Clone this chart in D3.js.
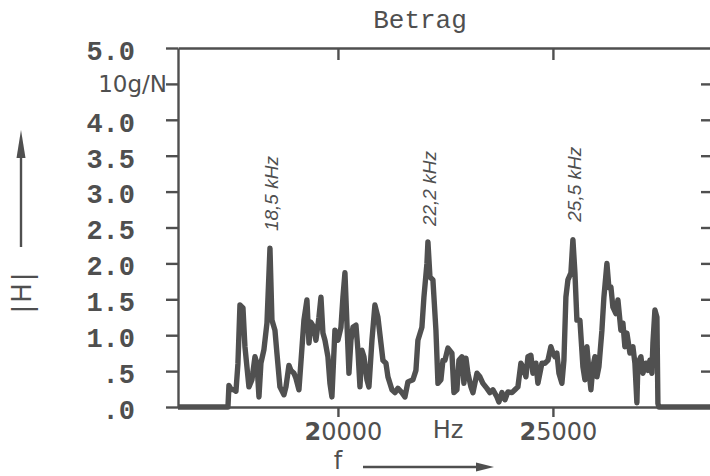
<!DOCTYPE html>
<html>
<head>
<meta charset="utf-8">
<script src="https://cdn.jsdelivr.net/npm/d3@7"></script>
<style>
  html, body { margin: 0; padding: 0; background: #ffffff; }
  svg { display: block; }
</style>
</head>
<body>
<svg id="chart" width="710" height="476"></svg>
<script>
// ---------- data ----------
const freqHz = [
  16280, 17420, 17442, 17465, 17512, 17581, 17628, 17674, 17721, 17791, 17837, 17930, 18000, 18070, 18116,
  18163, 18209, 18279, 18349, 18419, 18465, 18535, 18581, 18651, 18744, 18791, 18860, 18907, 18977,
  19023, 19093, 19140, 19209, 19279, 19326, 19372, 19442, 19488, 19558, 19605, 19651, 19698, 19767,
  19814, 19860, 19930, 20000, 20070, 20116, 20163, 20209, 20256, 20302, 20349, 20419, 20465, 20512,
  20558, 20605, 20674, 20721, 20791, 20860, 20930, 21000, 21047, 21116, 21163, 21256, 21326, 21395,
  21488, 21558, 21628, 21744, 21814, 21860, 21953, 22000, 22070, 22093, 22140, 22209, 22279, 22326,
  22395, 22442, 22488, 22558, 22651, 22698, 22767, 22814, 22884, 22930, 22977, 23023, 23093, 23140,
  23233, 23302, 23372, 23465, 23535, 23605, 23698, 23744, 23814, 23884, 23953, 24047, 24116, 24186,
  24256, 24302, 24372, 24419, 24488, 24535, 24605, 24651, 24744, 24814, 24884, 24953, 25000, 25047,
  25093, 25140, 25209, 25256, 25302, 25349, 25419, 25465, 25512, 25558, 25628, 25698, 25744, 25791,
  25837, 25884, 25930, 25977, 26023, 26070, 26140, 26186, 26256, 26302, 26349, 26395, 26465, 26512,
  26581, 26628, 26674, 26721, 26791, 26860, 26907, 26953, 26977, 27047, 27093, 27163, 27209, 27256,
  27302, 27326, 27372, 27419, 27442, 27465, 28700
];
const magnitude = [
  0.00, 0.00, 0.00, 0.30, 0.25, 0.24, 0.22, 0.60, 1.42, 1.38, 0.84, 0.28, 0.38, 0.70, 0.61,
  0.14, 0.61, 0.80, 1.17, 2.21, 1.21, 1.07, 0.75, 0.28, 0.17, 0.28, 0.58, 0.51, 0.47,
  0.40, 0.24, 0.63, 1.21, 1.49, 0.89, 1.18, 1.11, 0.93, 1.25, 1.53, 1.03, 0.93, 0.70,
  0.33, 0.14, 1.07, 0.93, 1.11, 1.53, 1.87, 1.17, 0.47, 0.93, 1.11, 1.14, 0.79, 0.28,
  0.79, 0.70, 0.38, 0.28, 0.93, 1.42, 1.25, 0.89, 0.65, 0.61, 0.42, 0.24, 0.20, 0.26,
  0.20, 0.14, 0.35, 0.38, 0.51, 0.93, 1.11, 1.53, 2.00, 2.30, 1.81, 1.77, 1.07, 0.33,
  0.38, 0.65, 0.65, 0.82, 0.75, 0.20, 0.24, 0.65, 0.70, 0.33, 0.68, 0.47, 0.28, 0.20,
  0.47, 0.42, 0.33, 0.26, 0.20, 0.24, 0.14, 0.07, 0.20, 0.10, 0.21, 0.20, 0.24, 0.28,
  0.61, 0.56, 0.42, 0.70, 0.72, 0.47, 0.61, 0.33, 0.61, 0.61, 0.65, 0.84, 0.75, 0.70,
  0.75, 0.47, 0.33, 0.65, 1.53, 1.77, 1.87, 2.33, 1.87, 1.21, 1.21, 0.56, 0.38, 0.84,
  0.51, 0.24, 0.56, 0.70, 0.42, 0.56, 1.07, 1.53, 2.00, 1.66, 1.67, 1.39, 1.30, 1.49,
  1.07, 1.17, 0.84, 1.03, 0.75, 0.84, 0.61, 0.06, 0.61, 0.70, 0.47, 0.61, 0.51, 0.65,
  0.47, 0.89, 1.35, 1.25, 0.05, 0.00, 0.00
];
const xTickValues = [20000, 25000];
const xTickLabels = ["20000", "25000"];
const yTickValues = [0, 0.5, 1.0, 1.5, 2.0, 2.5, 3.0, 3.5, 4.0, 4.5, 5.0];
const yTickLabels = [".0", ".5", "1.0", "1.5", "2.0", "2.5", "3.0", "3.5", "4.0", "10g/N", "5.0"];
const peakFreqs = [18419, 22093, 25465];
const peakLabels = ["18,5 kHz", "22,2 kHz", "25,5 kHz"];
const peakLabelLevel = [2.45, 2.52, 2.58];
const titleText = "Betrag";
const xUnitText = "Hz";
const xAxisText = "f";
const yAxisText = "|H|";

// ---------- layout ----------
const svg = d3.select("#chart");
const ink = "#4f4f4f";
const plotLeft = 178, plotRight = 712, plotTop = 48, plotBottom = 407;

const x = d3.scaleLinear().domain([16280, 28700]).range([plotLeft, plotRight]);
const y = d3.scaleLinear().domain([0, 5]).range([plotBottom, plotTop]);

svg.append("rect").attr("width", 710).attr("height", 476).attr("fill", "#ffffff");

// title
svg.append("text")
  .attr("x", 420).attr("y", 28)
  .attr("text-anchor", "middle")
  .attr("font-family", "'Liberation Mono', 'Courier New', monospace")
  .attr("font-size", 26)
  .attr("fill", ink)
  .text(titleText);

// left axis
const yLabelMap = new Map(yTickValues.map((v, i) => [v, yTickLabels[i]]));
const gL = svg.append("g").attr("transform", `translate(${plotLeft},0)`)
  .call(d3.axisLeft(y).tickValues(yTickValues).tickSize(12).tickSizeOuter(0).tickPadding(31)
    .tickFormat(d => yLabelMap.get(d)));
gL.select(".domain").attr("stroke", ink).attr("stroke-width", 2.4);
gL.selectAll(".tick line").attr("stroke", ink).attr("stroke-width", 2.4);
gL.selectAll(".tick text")
  .attr("fill", ink)
  .attr("font-family", "'Liberation Mono', 'Courier New', monospace")
  .attr("font-weight", "bold")
  .attr("font-size", 27)
  .attr("dy", "0.42em");
gL.selectAll(".tick text").filter(d => d === 4.5)
  .attr("font-weight", "normal")
  .attr("font-family", "'DejaVu Sans', sans-serif")
  .attr("font-size", 23)
  .attr("x", -11)
  .attr("dy", "0.35em");

// right ticks (axis itself just off-canvas)
const gR = svg.append("g").attr("transform", `translate(${plotRight},0)`)
  .call(d3.axisLeft(y).tickValues(yTickValues.filter(v => v > 0 && v < 5)).tickSize(11).tickSizeOuter(0).tickFormat(""));
gR.select(".domain").attr("stroke", ink).attr("stroke-width", 2.4);
gR.selectAll(".tick line").attr("stroke", ink).attr("stroke-width", 2.4);

// top axis
const gT = svg.append("g").attr("transform", `translate(0,${plotTop})`)
  .call(d3.axisBottom(x).tickValues(xTickValues).tickSize(12).tickSizeOuter(0).tickFormat(""));
gT.select(".domain").attr("stroke", ink).attr("stroke-width", 2.4);
gT.selectAll(".tick line").attr("stroke", ink).attr("stroke-width", 2.4);

// bottom axis
const xLabelMap = new Map(xTickValues.map((v, i) => [v, xTickLabels[i]]));
const gB = svg.append("g").attr("transform", `translate(0,${plotBottom})`)
  .call(d3.axisBottom(x).tickValues(xTickValues).tickSize(10).tickSizeOuter(0).tickPadding(6)
    .tickFormat(d => xLabelMap.get(d)));
gB.select(".domain").attr("stroke", ink).attr("stroke-width", 2.6);
gB.selectAll(".tick line").attr("stroke", ink).attr("stroke-width", 2.4);
gB.selectAll(".tick text").each(function(d) {
  const t = d3.select(this);
  const s = xLabelMap.get(d);
  t.text(null)
    .attr("x", 5)
    .attr("fill", ink)
    .attr("font-family", "'DejaVu Sans', sans-serif")
    .attr("font-size", 24);
  t.append("tspan").attr("font-weight", "bold").text(s.slice(0, 1));
  t.append("tspan").text(s.slice(1));
});

// unit "Hz"
svg.append("text")
  .attr("x", 448).attr("y", 438)
  .attr("text-anchor", "middle")
  .attr("font-family", "'DejaVu Sans', sans-serif")
  .attr("font-size", 24)
  .attr("fill", ink)
  .text(xUnitText);

// x axis name with arrow
svg.append("text")
  .attr("x", 338).attr("y", 469)
  .attr("text-anchor", "middle")
  .attr("font-family", "'DejaVu Sans', sans-serif")
  .attr("font-size", 24)
  .attr("fill", ink)
  .text(xAxisText);
svg.append("line").attr("x1", 363).attr("y1", 467).attr("x2", 480).attr("y2", 467)
  .attr("stroke", ink).attr("stroke-width", 2.4);
svg.append("path").attr("d", "M476,462.5 L494,467 L476,471.5 Z").attr("fill", ink);

// y axis name with arrow
svg.append("text")
  .attr("transform", "translate(31,292) rotate(-90)")
  .attr("text-anchor", "middle")
  .attr("font-family", "'DejaVu Sans', sans-serif")
  .attr("font-size", 26)
  .attr("letter-spacing", 2)
  .attr("fill", ink)
  .text(yAxisText);
svg.append("line").attr("x1", 21).attr("y1", 247).attr("x2", 21).attr("y2", 150)
  .attr("stroke", ink).attr("stroke-width", 2.4);
svg.append("path").attr("d", "M16.5,158 L21,130 L25.5,158 Z").attr("fill", ink);

// trace
const line = d3.line().x((d, i) => x(freqHz[i])).y(d => y(d));
svg.append("path")
  .datum(magnitude)
  .attr("d", line)
  .attr("fill", "none")
  .attr("stroke", "#505050")
  .attr("stroke-width", 5.4)
  .attr("stroke-linejoin", "round")
  .attr("stroke-linecap", "butt");

// peak annotations
peakFreqs.forEach((f, i) => {
  svg.append("text")
    .attr("transform", `translate(${x(f) + 8},${y(peakLabelLevel[i])}) rotate(-90)`)
    .attr("text-anchor", "start")
    .attr("font-family", "'Liberation Sans', sans-serif")
    .attr("font-style", "italic")
    .attr("font-size", 19)
    .attr("fill", ink)
    .text(peakLabels[i]);
});
</script>
</body>
</html>
